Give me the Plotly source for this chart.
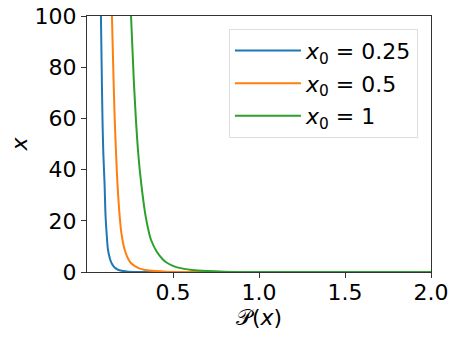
import plotly.graph_objects as go

# values (P(x) on the horizontal axis, x on the vertical)
p_vals_blue = [0.081, 0.0866, 0.090, 0.095, 0.102, 0.108, 0.114, 0.122, 0.135, 0.145, 0.155, 0.165, 0.184, 0.21, 0.24, 0.30, 2.0]
x_vals_blue = [100, 73.5, 60, 46.2, 34.7, 21.7, 15.2, 8.7, 4.8, 3.2, 2.2, 1.5, 0.8, 0.35, 0.12, 0.03, 0]

p_vals_orange = [0.145, 0.155, 0.161, 0.169, 0.177, 0.190, 0.200, 0.219, 0.242, 0.260, 0.281, 0.30, 0.339, 0.40, 0.46, 0.55, 2.0]
x_vals_orange = [100, 73.5, 60, 46.2, 34.7, 21.7, 15.2, 8.7, 4.8, 3.2, 2.2, 1.5, 0.8, 0.35, 0.12, 0.03, 0]

p_vals_green = [0.256, 0.273, 0.284, 0.298, 0.315, 0.341, 0.361, 0.372, 0.405, 0.44, 0.46, 0.50, 0.53, 0.61, 0.70, 0.80, 1.0, 2.0]
x_vals_green = [100, 73.5, 60, 46.2, 34.7, 21.7, 15.2, 12.6, 8.0, 5.0, 3.8, 2.4, 1.7, 0.8, 0.35, 0.12, 0.02, 0]

labels = ["<i>x</i><sub>0</sub> = 0.25", "<i>x</i><sub>0</sub> = 0.5", "<i>x</i><sub>0</sub> = 1"]
colors = ["#1f77b4", "#ff7f0e", "#2ca02c"]

x_ticks = [0.5, 1.0, 1.5, 2.0]
x_ticktext = ["0.5", "1.0", "1.5", "2.0"]
y_ticks = [0, 20, 40, 60, 80, 100]

fig = go.Figure()
series = [(p_vals_blue, x_vals_blue), (p_vals_orange, x_vals_orange), (p_vals_green, x_vals_green)]
for i, ((p, xv), name, c) in enumerate(zip(series, labels, colors)):
    fig.add_trace(go.Scatter(
        x=p, y=xv, mode="lines", name=name, legendgroup=str(i),
        line=dict(color=c, width=2, shape="spline", smoothing=0.9)
    ))

axis_style = dict(
    showline=True, mirror=True, linecolor="#333333", linewidth=1,
    ticks="outside", ticklen=5, tickwidth=1, tickcolor="#333333",
    showgrid=False, zeroline=False, automargin=False,
    ticklabeloverflow="allow",
    tickfont=dict(size=22, color="black"),
)

fig.update_layout(
    width=457, height=337,
    margin=dict(l=87, r=26, t=16, b=65),
    paper_bgcolor="white", plot_bgcolor="white",
    font=dict(family="DejaVu Sans", color="black"),
    xaxis=dict(range=[0.0, 2.0], tickvals=x_ticks, ticktext=x_ticktext,
               ticklabelstandoff=-4,
               title=dict(text="𝒫(<i>x</i>)", font=dict(size=22), standoff=2), **axis_style),
    yaxis=dict(range=[0, 100], tickvals=y_ticks,
               title=dict(text="<i>x</i>", font=dict(size=22), standoff=0), **axis_style),
    legend=dict(
        x=0.962, y=0.95, xanchor="right", yanchor="top",
        font=dict(size=22, color="black"),
        bgcolor="white", bordercolor="#dddddd", borderwidth=1,
        itemwidth=66, tracegroupgap=1,
    ),
    showlegend=True,
)

# drop the page's default body margin so the figure sits at the window's corner
fig.write_html("out.html", config={"displayModeBar": False},
               post_script="document.body.style.margin = '0';")
